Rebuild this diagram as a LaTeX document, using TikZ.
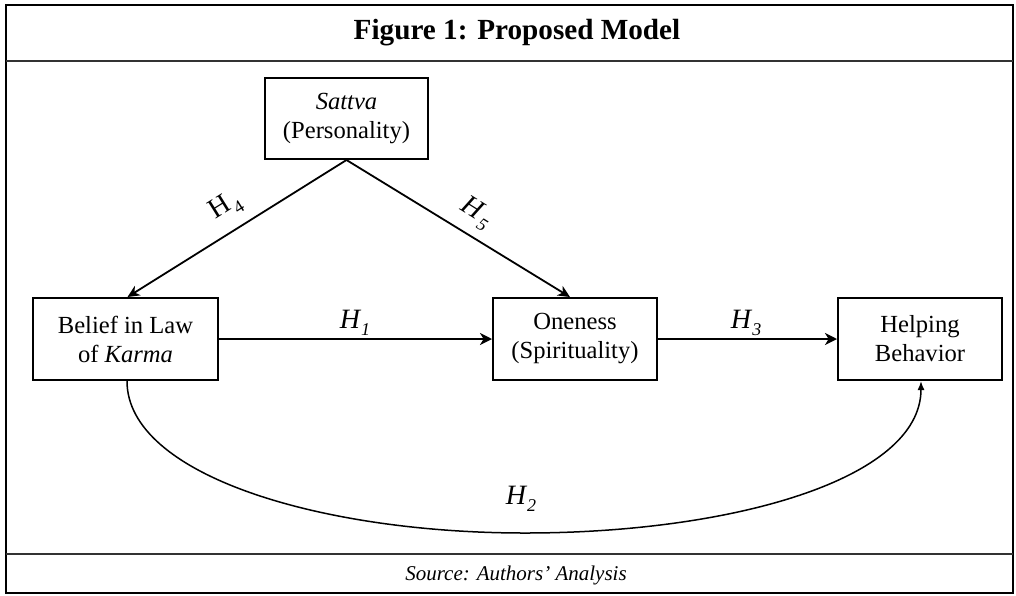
\documentclass[tikz,border=0pt]{standalone}
\usepackage{fontspec}
\setmainfont{Liberation Serif}
\usetikzlibrary{arrows.meta}
\tikzset{
  px/.style={x=0.5pt,y=-0.5pt},
  modelbox/.style={draw,line width=1pt,inner sep=0pt,align=center,
    font=\fontsize{12.3}{14.5}\selectfont,minimum height=41pt},
  thickarrow/.style={line width=1.35pt,-{Stealth[length=6pt,width=6pt,inset=1.8pt]}},
  diagarrow/.style={line width=0.9pt,-{Stealth[length=6pt,width=5.5pt,inset=1.8pt]}},
  curvearrow/.style={line width=0.75pt,-{Latex[length=4.5pt,width=3.5pt]}},
  hlabel/.style={font=\fontsize{14}{16}\selectfont,inner sep=0pt},
  framerule/.style={line width=1pt},
}
\newcommand{\hyp}[1]{\textit{H}\raisebox{-0.55ex}{\fontsize{9}{10}\selectfont\textit{#1}}}
\newcommand{\hypup}[1]{H\kern0.8pt\raisebox{-0.55ex}{\fontsize{9}{10}\selectfont #1}}
\newcommand{\hypsep}[1]{\textit{H}\kern0.8pt\raisebox{-0.55ex}{\fontsize{9}{10}\selectfont\textit{#1}}}
\begin{document}
\begin{tikzpicture}[px]
\useasboundingbox (0,0) rectangle (1016,595);
% frame
\draw[framerule] (6,5) rectangle (1013,593);
\draw[framerule,line width=1.3pt,black!80] (6,61) -- (1013,61);
\draw[framerule,line width=1.3pt,black!80] (6,554) -- (1013,554);
\node[font=\fontsize{14.6}{17}\selectfont\bfseries] (title) at (517,33) {Figure 1: Proposed Model};
\node[font=\fontsize{10.5}{12}\selectfont\itshape] (source) at (516,575) {Source: Authors’ Analysis};
% boxes
\node[modelbox,minimum width=81.5pt,minimum height=40.5pt] (sattva) at (346.5,118.5) {\textit{Sattva}\\(Personality)};
\node[modelbox,minimum width=92.5pt] (belief) at (125.5,339) {Belief in Law\\of \textit{Karma}};
\node[modelbox,minimum width=82pt] (oneness) at (575,339) {Oneness\\(Spirituality)};
\node[modelbox,minimum width=82pt] (helping) at (920,339) {Helping\\Behavior};
% connectors
\draw[diagarrow] (sattva.south) -- ([xshift=1pt]belief.north);
\draw[diagarrow] (sattva.south) -- ([xshift=-2.5pt]oneness.north);
\draw[thickarrow] (belief.east) -- (oneness.west);
\draw[thickarrow] (oneness.east) -- (helping.west);
\coordinate (low) at (525,533);
\draw[curvearrow] ([xshift=0.75pt]belief.south) .. controls (127,475) and (320,533) .. (low)
  .. controls (730,533) and (921,480) .. ([xshift=0.5pt]helping.south);
% labels
\node[hlabel] (h1) at (355,323) {\hyp{1}};
\node[hlabel] (h3) at (746,323) {\hyp{3}};
\node[hlabel] (h2) at (521,499) {\hyp{2}};
\node[hlabel,rotate=32] (h4) at (226,207) {\hypup{4}};
\node[hlabel,rotate=-32] (h5) at (476,213) {\hypsep{5}};
\end{tikzpicture}
\end{document}
